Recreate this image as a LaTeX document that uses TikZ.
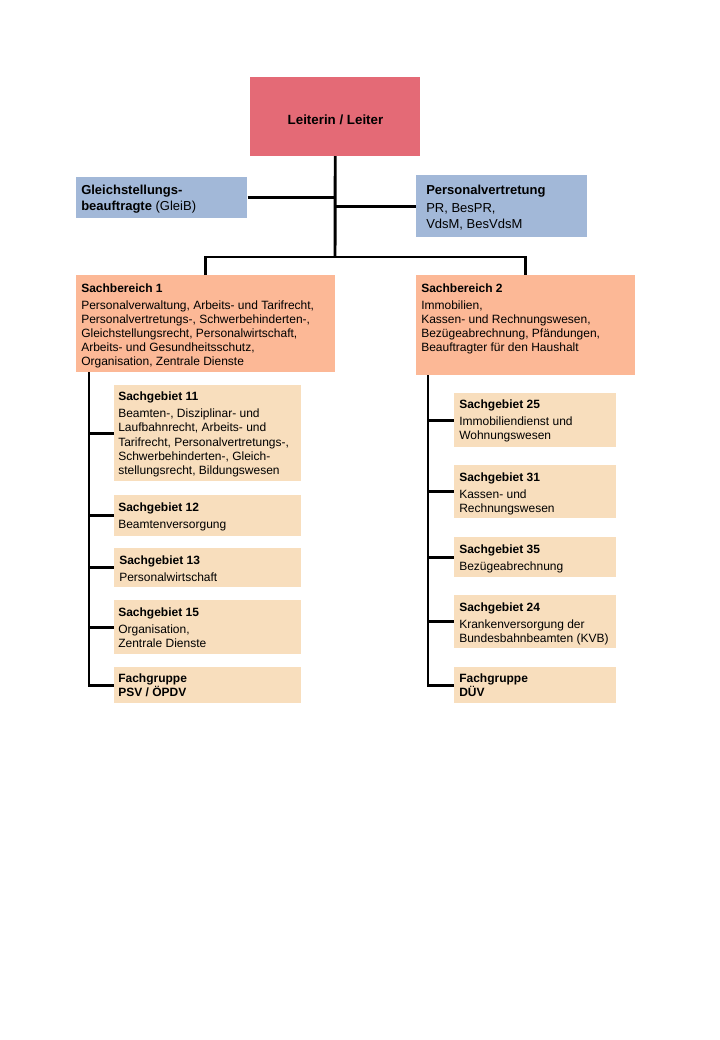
\documentclass[tikz,border=0pt]{standalone}
\usepackage{fontspec}
\setmainfont{Liberation Sans}
\usetikzlibrary{positioning}
\definecolor{leitrot}{RGB}{228,106,118}
\definecolor{blaugrau}{RGB}{162,184,216}
\definecolor{lachs}{RGB}{252,184,150}
\definecolor{pfirsich}{RGB}{248,222,189}

\begin{document}
\begin{tikzpicture}[x=0.75pt,y=0.75pt,yscale=-1,xscale=1]
  \useasboundingbox (0,0) rectangle (720,1040);
  \tikzstyle{kasten} = [draw=none,anchor=north west,inner sep=0pt]
  \tikzstyle{linie} = [line width=2.2pt]
  \tikzstyle{txt} = [anchor=north west,inner sep=0pt,align=left,font=\fontsize{9}{10.65}\selectfont]
  \tikzstyle{txtgross} = [anchor=north west,inner sep=0pt,align=left,font=\fontsize{9.75}{12}\selectfont]
  %Draw the top boxes
  \node[kasten,fill=leitrot,minimum width=127.5pt,minimum height=59pt] (leiter) at (250,77) {};
  \node[kasten,fill=blaugrau,minimum width=128.25pt,minimum height=30.75pt] (gleich) at (76,177) {};
  \node[kasten,fill=blaugrau,minimum width=128.25pt,minimum height=46.5pt] (pv) at (416,175) {};
  %Draw the two Sachbereiche
  \node[kasten,fill=lachs,minimum width=194.25pt,minimum height=72.75pt] (sb1) at (76,275) {};
  \node[kasten,fill=lachs,minimum width=164.25pt,minimum height=75pt] (sb2) at (416,275) {};
  %Draw the Sachgebiete, left column
  \node[kasten,fill=pfirsich,minimum width=140.25pt,minimum height=72pt] (sg11) at (114,385) {};
  \node[kasten,fill=pfirsich,minimum width=140.25pt,minimum height=30.75pt] (sg12) at (114,495) {};
  \node[kasten,fill=pfirsich,minimum width=140.25pt,minimum height=29.25pt] (sg13) at (114,548) {};
  \node[kasten,fill=pfirsich,minimum width=140.25pt,minimum height=40.5pt] (sg15) at (114,600) {};
  \node[kasten,fill=pfirsich,minimum width=140.25pt,minimum height=27pt] (fg1) at (114,667) {};
  %Draw the Sachgebiete, right column
  \node[kasten,fill=pfirsich,minimum width=121.5pt,minimum height=40.5pt] (sg25) at (454,393) {};
  \node[kasten,fill=pfirsich,minimum width=121.5pt,minimum height=39.75pt] (sg31) at (454,465) {};
  \node[kasten,fill=pfirsich,minimum width=121.5pt,minimum height=30pt] (sg35) at (454,537) {};
  \node[kasten,fill=pfirsich,minimum width=121.5pt,minimum height=39.75pt] (sg24) at (454,595) {};
  \node[kasten,fill=pfirsich,minimum width=121.5pt,minimum height=27pt] (fg2) at (454,667) {};

  % Label the boxes
  \node[font=\fontsize{10}{12}\selectfont\bfseries] (leitert) at (335.5,119.5) {Leiterin / Leiter};
  \node[txtgross] (gleicht) at (81,184.5) {\textbf{Gleichstellungs-}\\\textbf{beauftragte} (GleiB)};
  \node[txtgross] (pvt) at (426,185) {\textbf{Personalvertretung}\\[1.5pt]PR, BesPR,\\VdsM, BesVdsM};
  \node[txt] (sb1t) at (81,283.5) {\textbf{Sachbereich 1}\\[1.85pt]Personalverwaltung, Arbeits- und Tarifrecht,\\Personalvertretungs-, Schwerbehinderten-,\\Gleichstellungsrecht, Personalwirtschaft,\\Arbeits- und Gesundheitsschutz,\\Organisation, Zentrale Dienste};
  \node[txt] (sb2t) at (421,283.5) {\textbf{Sachbereich 2}\\[1.85pt]Immobilien,\\Kassen- und Rechnungswesen,\\Bezügeabrechnung, Pfändungen,\\Beauftragter für den Haushalt};
  \node[txt] (sg11t) at (118,392) {\textbf{Sachgebiet 11}\\[1.85pt]Beamten-, Disziplinar- und\\Laufbahnrecht, Arbeits- und\\Tarifrecht, Personalvertretungs-,\\Schwerbehinderten-, Gleich-\\stellungsrecht, Bildungswesen};
  \node[txt] (sg12t) at (118,503) {\textbf{Sachgebiet 12}\\[1.85pt]Beamtenversorgung};
  \node[txt] (sg13t) at (119,555.5) {\textbf{Sachgebiet 13}\\[1.85pt]Personalwirtschaft};
  \node[txt] (sg15t) at (118,607.5) {\textbf{Sachgebiet 15}\\[1.85pt]Organisation,\\Zentrale Dienste};
  \node[txt] (fg1t) at (118,673.5) {\textbf{Fachgruppe}\\\textbf{PSV / ÖPDV}};
  \node[txt] (sg25t) at (459,399.5) {\textbf{Sachgebiet 25}\\[1.85pt]Immobiliendienst und\\Wohnungswesen};
  \node[txt] (sg31t) at (459,472.5) {\textbf{Sachgebiet 31}\\[1.85pt]Kassen- und\\Rechnungswesen};
  \node[txt] (sg35t) at (459,544.5) {\textbf{Sachgebiet 35}\\[1.85pt]Bezügeabrechnung};
  \node[txt] (sg24t) at (459,602.5) {\textbf{Sachgebiet 24}\\[1.85pt]Krankenversorgung der\\Bundesbahnbeamten (KVB)};
  \node[txt] (fg2t) at (459,673.5) {\textbf{Fachgruppe}\\\textbf{DÜV}};

  %Draw the connectors at the top
  \coordinate (hub) at (335,257);
  \draw[linie] (leiter.south) -- (hub);
  \draw[linie] (gleich.east) -- (gleich.east -| leiter.south);
  \draw[linie] (pv.west) -- (pv.west -| leiter.south);
  \draw[linie] (sb1.north) |- (hub) -| (sb2.north);
  %Draw the two spines
  \coordinate (spine1) at (89,372);
  \coordinate (spine2) at (428,375);
  \draw[linie] (spine1) |- (fg1.west);
  \draw[linie] (spine2) |- (fg2.west);
  \foreach \n in {sg11,sg12,sg13,sg15}
    \draw[linie] (spine1 |- \n.west) -- (\n.west);
  \foreach \n in {sg25,sg31,sg35,sg24}
    \draw[linie] (spine2 |- \n.west) -- (\n.west);
\end{tikzpicture}
\end{document}
